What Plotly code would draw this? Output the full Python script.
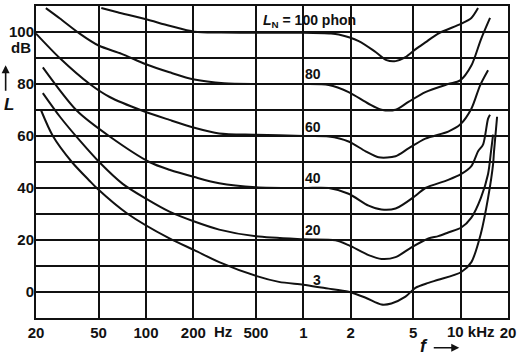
import math
import plotly.graph_objects as go

# ---- data ----
f_100 = [52, 66, 100, 141, 203, 300, 500, 1000, 1500, 1680, 2250, 2880, 3380, 3860, 4460, 5160, 5970, 7210, 10100, 11700, 12900]
L_100 = [109.2, 107.6, 104.9, 102.4, 100.1, 99.8, 99.7, 99.7, 99.4, 99.0, 96.5, 92.3, 89.2, 88.8, 90.3, 93.3, 96.0, 99.4, 103.2, 105.4, 109.2]

f_80 = [23.1, 28.4, 37.9, 50, 70, 100, 141, 203, 314, 500, 1000, 1450, 1940, 2600, 3140, 3860, 4660, 5970, 8340, 9930, 11700, 13450, 15380]
L_80 = [109.2, 105.2, 99.4, 94.8, 91.6, 87.6, 84.5, 81.7, 80.3, 80.0, 80.0, 79.6, 76.9, 72.4, 70.1, 70.1, 73.1, 76.9, 80.0, 81.4, 87.1, 97.1, 105.4]

f_60 = [20, 28.4, 43.9, 58.8, 95, 141, 203, 292, 500, 1000, 1450, 1940, 2490, 3010, 3860, 4660, 5970, 8340, 9930, 11700, 13300, 14940]
L_60 = [99.4, 89.9, 80.0, 75.0, 69.7, 66.2, 63.2, 61.0, 60.5, 60.0, 59.8, 57.9, 54.1, 51.8, 52.2, 55.2, 59.0, 61.7, 64.4, 70.5, 79.5, 85.3]

f_40 = [22.1, 36.4, 58.8, 105, 141, 203, 292, 500, 1000, 1450, 1940, 2600, 3140, 3860, 5160, 5970, 8340, 10100, 11700, 12910, 13900, 14940, 15380]
L_40 = [86.4, 69.7, 59.8, 50.0, 47.0, 44.2, 41.8, 40.3, 40.0, 40.0, 37.8, 33.2, 31.7, 32.1, 37.0, 40.0, 43.1, 45.4, 48.4, 54.1, 56.8, 66.7, 68.2]

f_20 = [22.1, 28.4, 37.9, 50.6, 71.1, 100, 141, 203, 292, 500, 1000, 1600, 1940, 2600, 3140, 3860, 4870, 6240, 7210, 8340, 10100, 11700, 13450, 14940, 15600, 16080]
L_20 = [76.5, 67.4, 58.3, 49.9, 41.6, 35.9, 30.9, 27.1, 24.0, 21.4, 20.3, 19.9, 18.0, 14.2, 12.7, 13.4, 17.2, 20.6, 21.5, 22.9, 24.8, 28.6, 36.2, 45.4, 54.1, 60.5]

f_3 = [21.5, 25.6, 33.8, 43.9, 48.6, 75.6, 141, 203, 292, 500, 700, 1000, 1340, 1450, 1940, 2490, 3140, 3630, 4460, 5160, 6240, 7210, 10100, 11700, 13450, 14940, 16080, 16300, 17050]
L_3 = [70.0, 60.0, 50.0, 42.7, 40.0, 30.3, 20.6, 16.1, 11.5, 6.2, 3.9, 2.8, 1.6, 1.3, 0.1, -2.2, -4.8, -4.4, -1.8, 1.6, 3.5, 4.7, 7.7, 11.5, 22.5, 36.2, 49.2, 54.1, 67.4]

curves = [(f_100, L_100), (f_80, L_80), (f_60, L_60), (f_40, L_40), (f_20, L_20), (f_3, L_3)]

curve_labels = ["<i>L</i><sub>N</sub> = 100 phon", "80", "60", "40", "20", "3"]
label_f = [538, 1149, 1149, 1149, 1149, 1218]
label_L = [104.3, 83.8, 63.6, 43.9, 23.7, 4.7]
label_anchor = ["left", "center", "center", "center", "center", "center"]

x_tick_vals = [20, 50, 100, 200, 500, 1000, 2000, 5000, 10000, 20000]
x_tick_text = ["20", "50", "100", "200", "500", "1", "2", "5", "", "20"]
y_tick_vals = [-10, 0, 10, 20, 30, 40, 50, 60, 70, 80, 90, 100, 110]
y_tick_text = ["", "0", "", "20", "", "40", "", "60", "", "80", "", "100", ""]

FONT = "Liberation Sans"
INK = "#111111"

fig = go.Figure()
for fx, Ly in curves:
    fig.add_trace(go.Scatter(x=fx, y=Ly, mode="lines",
                             line=dict(color=INK, width=2, shape="spline", smoothing=0.8),
                             hoverinfo="skip", showlegend=False))

ann = []
for t, fx, Ly, an in zip(curve_labels, label_f, label_L, label_anchor):
    ann.append(dict(x=math.log10(fx), y=Ly, xref="x", yref="y", text=t, showarrow=False,
                    xanchor=an, yanchor="middle",
                    font=dict(family=FONT, size=14, color=INK, weight="bold")))

# unit labels
ann.append(dict(x=-0.006, y=94.2, xref="paper", yref="y", text="dB", showarrow=False,
                xanchor="right", yanchor="middle",
                font=dict(family=FONT, size=15, color=INK, weight="bold")))
ann.append(dict(x=-0.057, y=72.0, xref="paper", yref="y", text="<i>L</i>", showarrow=False,
                xanchor="center", yanchor="middle",
                font=dict(family=FONT, size=17, color=INK, weight="bold")))
ann.append(dict(x=-0.0643, y=87.2, xref="paper", yref="y", text="", showarrow=True,
                ax=0, ay=27, arrowhead=2, arrowsize=1, arrowwidth=1.6, arrowcolor=INK))
ann.append(dict(x=math.log10(310), y=-0.0446, xref="x", yref="paper", text="Hz", showarrow=False,
                xanchor="center", yanchor="middle",
                font=dict(family=FONT, size=15, color=INK, weight="bold")))
ann.append(dict(x=math.log10(8000), y=-0.0446, xref="x", yref="paper", text="10 kHz", showarrow=False,
                xanchor="left", yanchor="middle",
                font=dict(family=FONT, size=15, color=INK, weight="bold")))
ann.append(dict(x=math.log10(5880), y=-0.089, xref="x", yref="paper", text="<i>f</i>", showarrow=False,
                xanchor="center", yanchor="middle",
                font=dict(family=FONT, size=18, color=INK, weight="bold")))
ann.append(dict(x=math.log10(9800), y=-0.0955, xref="x", yref="paper", text="", showarrow=True,
                ax=-27, ay=0, arrowhead=2, arrowsize=1, arrowwidth=1.6, arrowcolor=INK))

axis_common = dict(showgrid=True, gridcolor=INK, gridwidth=1.5, zeroline=False,
                   showline=True, linecolor=INK, linewidth=2, mirror=True, ticks="",
                   tickfont=dict(family=FONT, size=15, color=INK, weight="bold"))

fig.update_layout(
    width=520, height=358,
    margin=dict(l=36, r=10, t=4, b=40),
    paper_bgcolor="white", plot_bgcolor="white",
    showlegend=False,
    annotations=ann,
    xaxis=dict(type="log", range=[math.log10(20), math.log10(20000)],
               tickmode="array", tickvals=x_tick_vals, ticktext=x_tick_text,
               ticklabelstandoff=0, **axis_common),
    yaxis=dict(range=[-10, 110], tickmode="array", tickvals=y_tick_vals, ticktext=y_tick_text,
               ticklabelstandoff=-3, **axis_common),
)

fig.write_html("out.html", config={"displayModeBar": False},
               post_script="document.body.style.margin='0';")
